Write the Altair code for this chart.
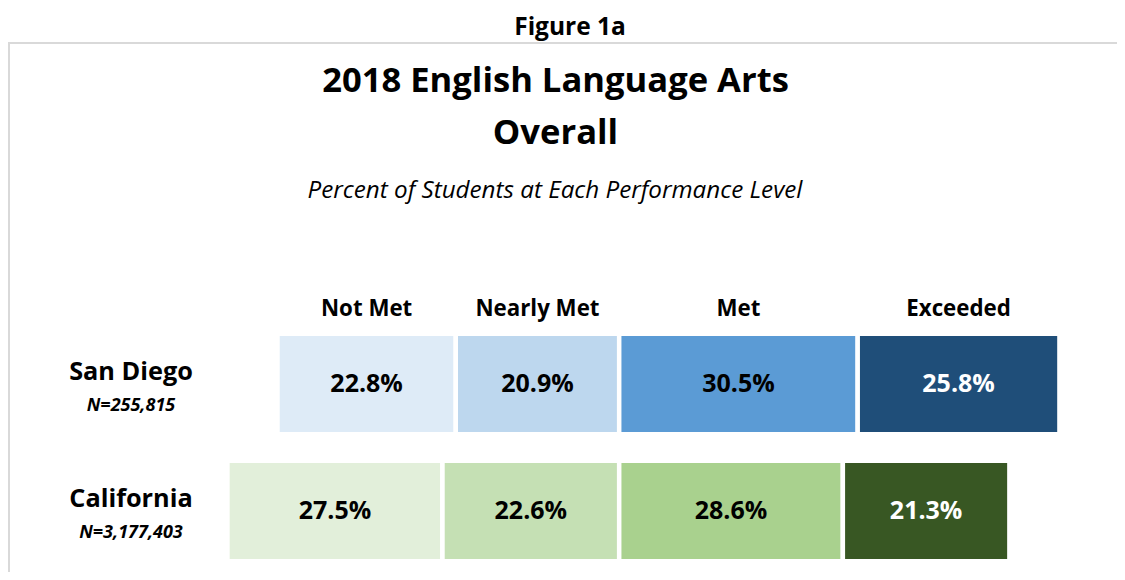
import altair as alt
import pandas as pd

# ---- data ----
regions = ["San Diego", "California"]
region_ns = ["N=255,815", "N=3,177,403"]
levels = ["Not Met", "Nearly Met", "Met", "Exceeded"]
sd_values = [22.8, 20.9, 30.5, 25.8]
ca_values = [27.5, 22.6, 28.6, 21.3]

figure_label = "Figure 1a"
title_lines = ["2018 English Language Arts", "Overall"]
subtitle = "Percent of Students at Each Performance Level"

palette = ["#DEEBF7", "#BDD7EE", "#5B9BD5", "#1F4E79",
           "#E2EFDA", "#C5E0B4", "#A9D18E", "#385723"]

# ---- build table: diverging stack centred on Nearly Met / Met boundary ----
rows = []
for region, vals in zip(regions, [sd_values, ca_values]):
    start = -(vals[0] + vals[1])
    for lvl, v in zip(levels, vals):
        rows.append(dict(region=region, level=lvl, value=v,
                         x0=start, x1=start + v, mid=start + v / 2,
                         key=f"{region}|{lvl}", label=f"{v:.1f}%"))
        start += v
df = pd.DataFrame(rows)
headers = df[df.region == regions[0]]
row_df = pd.DataFrame({"region": regions, "n": region_ns})

W, H = 1109, 564
FONT = "Open Sans"

xscale = alt.Scale(domain=[-78.16, 63.66])
yscale = alt.Scale(domain=regions, range=[312.5, 566.5],
                   paddingInner=0.2087, paddingOuter=0.10435)
keys = [f"{r}|{l}" for r in regions for l in levels]

bars = alt.Chart(df).mark_bar(stroke="white", strokeWidth=4.5).encode(
    x=alt.X("x0:Q", scale=xscale, axis=None),
    x2="x1:Q",
    y=alt.Y("region:N", scale=yscale, axis=None),
    color=alt.Color("key:N", scale=alt.Scale(domain=keys, range=palette), legend=None),
)

values = alt.Chart(df).mark_text(font=FONT, fontWeight="bold", fontSize=25, baseline="middle").encode(
    x=alt.X("mid:Q", scale=xscale, axis=None),
    y=alt.Y("region:N", scale=yscale, axis=None),
    text="label:N",
    color=alt.condition(alt.datum.level == "Exceeded", alt.value("white"), alt.value("black")),
)

head = alt.Chart(headers).mark_text(font=FONT, fontWeight="bold", fontSize=22.3, baseline="middle", color="black").encode(
    x=alt.X("mid:Q", scale=xscale, axis=None),
    y=alt.value(300.5),
    text="level:N",
)

row_names = alt.Chart(row_df).mark_text(font=FONT, fontWeight="bold", fontSize=25.3, baseline="middle", dy=-12, color="black").encode(
    x=alt.value(123),
    y=alt.Y("region:N", scale=yscale, axis=None),
    text="region:N",
)
row_ns = alt.Chart(row_df).mark_text(font=FONT, fontWeight="bold", fontStyle="italic", fontSize=18, baseline="middle", dy=22, color="black").encode(
    x=alt.value(123),
    y=alt.Y("region:N", scale=yscale, axis=None),
    text="n:N",
)

def label(txt, x, y, size, weight="bold", style="normal", baseline="middle"):
    return alt.Chart(pd.DataFrame({"t": [txt]})).mark_text(
        font=FONT, fontSize=size, fontWeight=weight, fontStyle=style,
        baseline=baseline, align="center", color="black"
    ).encode(x=alt.value(x), y=alt.value(y), text="t:N")

fig = label(figure_label, 562, 26.5, 24.5, baseline="alphabetic")
t1 = label(title_lines[0], 547.5, 74, 34.6)
t2 = label(title_lines[1], 547.5, 126, 34.6)
sub = label(subtitle, 547, 183, 24.2, weight="normal", style="italic")

frame_df = pd.DataFrame({"a": [0]})
frame_top = alt.Chart(frame_df).mark_rule(color="#D9D9D9", strokeWidth=2).encode(
    x=alt.value(0), x2=alt.value(W), y=alt.value(35))
frame_left = alt.Chart(frame_df).mark_rule(color="#D9D9D9", strokeWidth=2).encode(
    x=alt.value(1), y=alt.value(34), y2=alt.value(H))

chart = alt.layer(frame_top, frame_left, bars, values, head, row_names, row_ns,
                  fig, t1, t2, sub).properties(
    width=W, height=H, padding=0, autosize=alt.AutoSizeParams(type="none"),
    background="white",
).configure_view(stroke=None)

chart.save("out.html", embed_options={"renderer": "svg", "actions": False})
